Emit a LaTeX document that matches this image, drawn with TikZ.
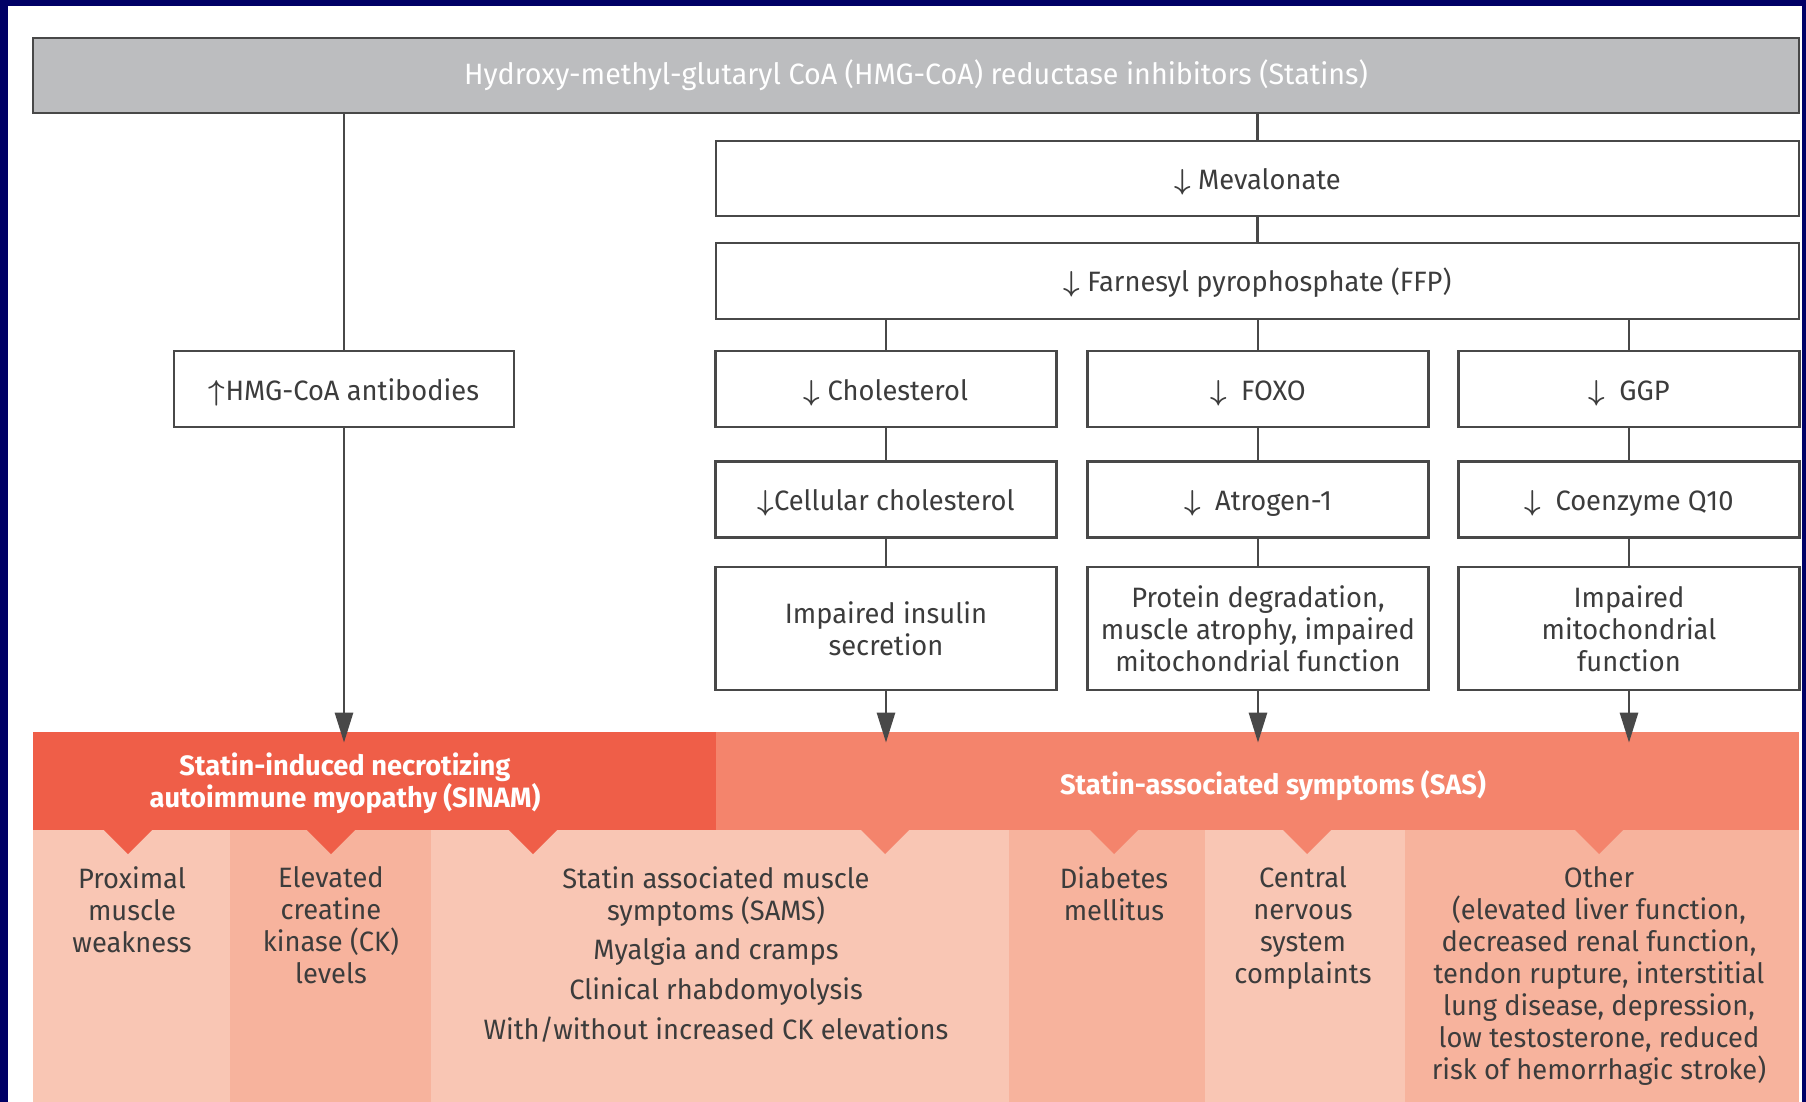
\documentclass[tikz,border=0pt]{standalone}
\usepackage{fontspec}
\usepackage{bm}
\setmainfont{Fira Sans}[FakeStretch=0.975]
\usetikzlibrary{arrows.meta,positioning}
\definecolor{framenavy}{RGB}{0,0,102}
\definecolor{hdrgray}{RGB}{188,189,191}
\definecolor{linegray}{RGB}{72,72,72}
\definecolor{txtgray}{RGB}{60,60,60}
\definecolor{sinamred}{RGB}{239,94,72}
\definecolor{sasred}{RGB}{244,132,108}
\definecolor{celllight}{RGB}{249,198,180}
\definecolor{celldark}{RGB}{247,179,157}

\begin{document}
\begin{tikzpicture}[x=0.5pt, y=-0.5pt,
  every node/.style={font=\fontsize{14}{16}\selectfont, text=txtgray, inner sep=0pt},
  hdr/.style={rectangle, draw=linegray, line width=1.4pt, fill=hdrgray, text=white,
              font=\fontsize{14.7}{16}\selectfont, minimum width=883pt, minimum height=37.5pt},
  proc/.style={rectangle, draw=linegray, line width=1.4pt, fill=white,
               minimum width=170.5pt, minimum height=38pt, align=center},
  line1/.style={proc, text height=11pt, text depth=0pt},
  tall/.style={proc, minimum height=61.5pt},
  wide/.style={line1, minimum width=541.5pt},
  conn/.style={linegray, line width=1.4pt},
  arr/.style={conn, -{Triangle[length=15pt, width=9pt]}},
  bar/.style={rectangle, minimum height=49pt},
  bartxt/.style={text=white, font=\fontsize{14}{16}\selectfont\bfseries, align=center},
  cell/.style={anchor=north, align=center}
]
  \useasboundingbox (0,0) rectangle (1806,1102);
  \fill[framenavy] (0,0) rectangle (1806,1102);
  \fill[white] (8,6) rectangle (1802,1102);

  % top of the pathway
  \node[hdr] (hmg) at (916,75.5) {Hydroxy-methyl-glutaryl CoA (HMG-CoA) reductase inhibitors (Statins)};
  \node[wide, minimum height=37.5pt] (meva) at (1257.5,178.5) {$\bm{\downarrow}$\ Mevalonate};
  \node[wide] (ffp) at (1257.5,281) {$\bm{\downarrow}$\ Farnesyl pyrophosphate (FFP)};
  \node[line1, minimum width=170pt] (abody) at (344,389) {$\bm{\uparrow}$HMG-CoA antibodies};

  % three branches
  \node[line1] (chol) at (886,389)  {$\bm{\downarrow}$\ Cholesterol};
  \node[line1] (foxo) at (1258,389) {$\bm{\downarrow}$\ \ FOXO};
  \node[line1] (ggp)  at (1629,389) {$\bm{\downarrow}$\ \ GGP};
  \node[line1] (cellchol) at (886,499.5)  {$\bm{\downarrow}$Cellular cholesterol};
  \node[line1] (atro)     at (1258,499.5) {$\bm{\downarrow}$\ \ Atrogen-1};
  \node[line1] (coq)      at (1629,499.5) {$\bm{\downarrow}$\ \ Coenzyme Q10};
  \node[tall] (insul) at (886,628.5)  {Impaired insulin\\secretion};
  \node[tall] (prot)  at (1258,628.5) {Protein degradation,\\muscle atrophy, impaired\\mitochondrial function};
  \node[tall] (mito)  at (1629,628.5) {Impaired\\mitochondrial\\function};

  \draw[conn] (abody.north) -- (abody.north |- hmg.south);
  \draw[conn] (meva.north) -- (meva.north |- hmg.south);
  \draw[conn] (meva.south) -- (ffp.north);
  \draw[conn] (chol.north) -- (chol.north |- ffp.south);
  \draw[conn] (foxo.north) -- (foxo.north |- ffp.south);
  \draw[conn] (ggp.north)  -- (ggp.north |- ffp.south);
  \draw[conn] (chol) -- (cellchol);
  \draw[conn] (foxo) -- (atro);
  \draw[conn] (ggp)  -- (coq);
  \draw[conn] (cellchol) -- (insul);
  \draw[conn] (atro) -- (prot);
  \draw[conn] (coq)  -- (mito);

  % outcome bars
  \node[bar, fill=sinamred, minimum width=341.5pt] (sinambar) at (374.5,781) {};
  \node[bar, fill=sasred, minimum width=541.5pt] (sasbar) at (1257.5,781) {};
  \node[bartxt] (sinam) at (345,783) {Statin-induced necrotizing\\autoimmune myopathy (SINAM)};
  \node[bartxt] (sas) at (1273,786) {Statin-associated symptoms (SAS)};

  \draw[arr] (abody.south) -- ([yshift=-5.5pt]abody.south |- sinambar.north);
  \draw[arr] (insul.south) -- ([yshift=-5.5pt]insul.south |- sasbar.north);
  \draw[arr] (prot.south)  -- ([yshift=-5.5pt]prot.south |- sasbar.north);
  \draw[arr] (mito.south)  -- ([yshift=-5.5pt]mito.south |- sasbar.north);

  % symptom columns
  \foreach \xa/\xb/\c in {33/230/celllight, 230/431/celldark, 431/1009/celllight,
                          1009/1205/celldark, 1205/1405/celllight, 1405/1799/celldark}
    \fill[\c] (\xa,830) rectangle (\xb,1102);
  \foreach \x/\c in {128/sinamred, 331/sinamred, 533/sinamred, 885/sasred,
                     1114/sasred, 1307/sasred, 1599/sasred}
    \fill[\c] (\x-25,829) -- (\x+25,829) -- (\x,854) -- cycle;

  \node[cell] (prox)  at (132,866.5)  {Proximal\\muscle\\weakness};
  \node[cell] (ck)    at (331,866.5)  {Elevated\\creatine\\kinase (CK)\\levels};
  \node[cell] (sams)  at (716,866.5)  {Statin associated muscle\\symptoms (SAMS)\\[3.5pt]Myalgia and cramps\\[4pt]Clinical rhabdomyolysis\\[4pt]With/without increased CK elevations};
  \node[cell] (diab)  at (1114,866.5) {Diabetes\\mellitus};
  \node[cell] (cns)   at (1303,866.5) {Central\\nervous\\system\\complaints};
  \node[cell] (other) at (1599,866.5) {Other\\(elevated liver function,\\decreased renal function,\\tendon rupture, interstitial\\lung disease, depression,\\low testosterone, reduced\\risk of hemorrhagic stroke)};
\end{tikzpicture}
\end{document}
